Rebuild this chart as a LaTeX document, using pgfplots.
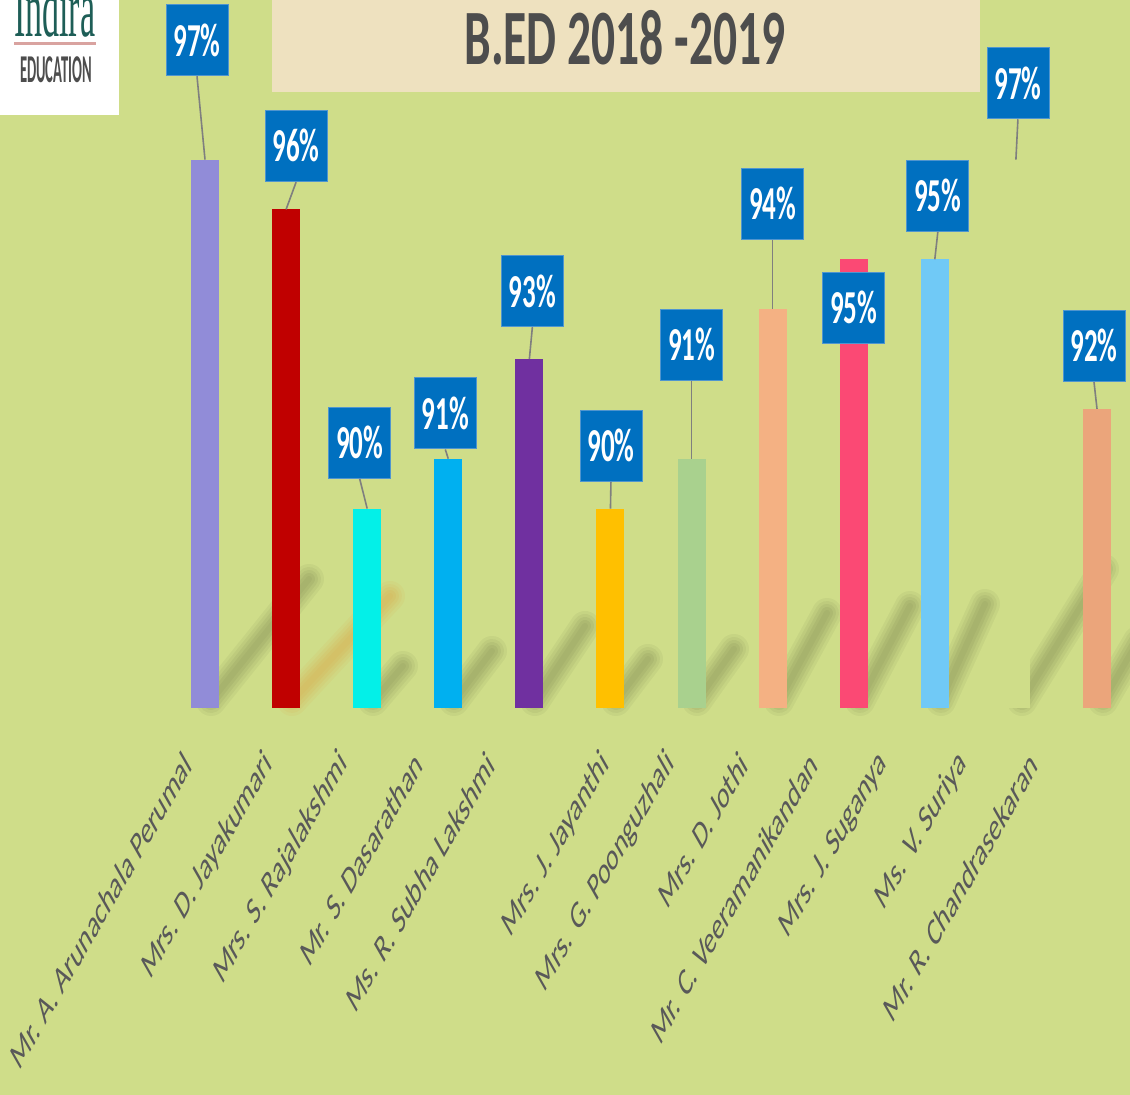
\documentclass[border=0pt]{standalone}
\usepackage{fontspec}
\setmainfont{Carlito}
\newfontfamily\seriffont{Liberation Serif}
\usepackage{pgfplots}
\pgfplotsset{compat=1.18}
\definecolor{bg}{HTML}{CFDD89}
\definecolor{boxblue}{HTML}{0070C0}
\definecolor{boxedge}{HTML}{4F95CF}
\definecolor{leadgray}{HTML}{7F7F7F}
\definecolor{labelgray}{HTML}{595959}
\definecolor{titlegray}{HTML}{4D4D4D}
\definecolor{titlebg}{HTML}{EEE1BF}
\definecolor{logoteal}{HTML}{1E5E57}
\definecolor{logopink}{HTML}{D9A3A0}
\definecolor{c1}{HTML}{918CD8}
\definecolor{c2}{HTML}{C00000}
\definecolor{c3}{HTML}{03F0E8}
\definecolor{c4}{HTML}{00B0F0}
\definecolor{c5}{HTML}{7030A0}
\definecolor{c6}{HTML}{FFC000}
\definecolor{c7}{HTML}{A9D18E}
\definecolor{c8}{HTML}{F4B183}
\definecolor{c9}{HTML}{FB4974}
\definecolor{c10}{HTML}{70C9F6}
\definecolor{c11}{HTML}{CFDD89}
\definecolor{c12}{HTML}{EBA57B}
\begin{document}
\begin{tikzpicture}[x=1pt,y=1pt,
  valbox/.style={fill=boxblue, draw=boxedge, line width=0.8pt, text=white, font=\bfseries\fontsize{27}{27}\selectfont, minimum width=62pt, minimum height=40.6pt, inner sep=0pt, yscale=1.75},
  leader/.style={leadgray, line width=1.6pt}]
\clip (0,0) rectangle (1130,1095);
\fill[bg] (0,0) rectangle (1130,1095);
% soft shadows behind the bars
\foreach \xr/\dx/\dy in {219/98/122, 381/30/35, 462/38/50, 543/50/75, 624/32/42, 705/37/52, 787/48/88, 868/50/95, 949/44/97, 1030/82/132, 1111/35/60}{
  \foreach \w/\o in {30/0.04, 24/0.04, 18/0.045, 12/0.045, 6/0.03}{
    \draw[line width=\w pt, line cap=round, black, opacity=\o] (\xr-8,394) -- ++(\dx,\dy);
  }
}
\foreach \w/\o in {30/0.06, 24/0.06, 18/0.07, 12/0.07, 6/0.05}{
  \draw[line width=\w pt, line cap=round, orange!70!brown, opacity=\o] (292,394) -- ++(98,105);
}
% title box
\fill[titlebg] (272,1003) rectangle (980,1095);
\node[inner sep=0pt, font=\bfseries\fontsize{47.5}{47.5}\selectfont, text=titlegray, yscale=1.65] at (625,1057) {B.ED 2018 -2019};
% logo
\fill[white] (0,980) rectangle (119,1095);
\node[anchor=base west, inner sep=0pt, font=\seriffont\fontsize{34}{34}\selectfont, text=logoteal, yscale=2.4] at (14,1058) {Indira};
\fill[logopink] (14,1050) rectangle (96,1052.5);
\node[inner sep=0pt, font=\bfseries\fontsize{14.6}{14.6}\selectfont, text=titlegray, yscale=2.7] at (56,1025.5) {EDUCATION};
\begin{axis}[
  at={(0pt,387pt)}, anchor=south west,
  scale only axis, width=1130pt, height=708pt,
  xmin=-2.528, xmax=11.407, ymin=86, ymax=100.2,
  axis line style={draw=none},
  ytick=\empty,
  xtick={-0.212,0.787,1.712,2.637,3.525,4.943,5.745,6.645,7.506,8.371,9.346,10.221},
  xticklabels={Mr. A. Arunachala Perumal, Mrs. D. Jayakumari, Mrs. S. Rajalakshmi, Mr. S. Dasarathan, Ms. R. Subha Lakshmi, Mrs. J. Jayanthi, Mrs. G. Poonguzhali, Mrs. D. Jothi, Mr. C. Veeramanikandan, Mrs. J. Suganya, Ms. V. Suriya, Mr. R. Chandrasekaran},
  major tick length=0pt,
  xticklabel style={yshift=-50pt, anchor=east, inner sep=0pt, font=\fontsize{22.5}{22.5}\selectfont, text=labelgray, yscale=1.75, rotate=45},
  clip mode=individual,
  mybar/.style={ybar, bar width=28pt, bar shift=0pt, draw=none, fill=#1},
]
\addplot[mybar=c1] coordinates {(0,97)};
\addplot[mybar=c2] coordinates {(1,96)};
\addplot[mybar=c3] coordinates {(2,90)};
\addplot[mybar=c4] coordinates {(3,91)};
\addplot[mybar=c5] coordinates {(4,93)};
\addplot[mybar=c6] coordinates {(5,90)};
\addplot[mybar=c7] coordinates {(6,91)};
\addplot[mybar=c8] coordinates {(7,94)};
\addplot[mybar=c9] coordinates {(8,95)};
\addplot[mybar=c10] coordinates {(9,95)};
\addplot[mybar=c11] coordinates {(10,97)};
\addplot[mybar=c12] coordinates {(11,92)};
% callouts
\node[valbox] (b1) at ([shift={(-8pt,119.5pt)}]axis cs:0,97) {97\%};
\draw[leader] (axis cs:0,97) -- (b1.south);
\node[valbox] (b2) at ([shift={(10pt,63.5pt)}]axis cs:1,96) {96\%};
\draw[leader] (axis cs:1,96) -- (b2.south);
\node[valbox] (b3) at ([shift={(-7.5pt,66pt)}]axis cs:2,90) {90\%};
\draw[leader] (axis cs:2,90) -- (b3.south);
\node[valbox] (b4) at ([shift={(-3pt,45.5pt)}]axis cs:3,91) {91\%};
\draw[leader] (axis cs:3,91) -- (b4.south);
\node[valbox] (b5) at ([shift={(3pt,68pt)}]axis cs:4,93) {93\%};
\draw[leader] (axis cs:4,93) -- (b5.south);
\node[valbox] (b6) at ([shift={(0.5pt,63pt)}]axis cs:5,90) {90\%};
\draw[leader] (axis cs:5,90) -- (b6.south);
\node[valbox] (b7) at ([shift={(0pt,114pt)}]axis cs:6,91) {91\%};
\draw[leader] (axis cs:6,91) -- (b7.south);
\node[valbox] (b8) at ([shift={(0pt,105.5pt)}]axis cs:7,94) {94\%};
\draw[leader] (axis cs:7,94) -- (b8.south);
\node[valbox] (b9) at ([shift={(0pt,-48.5pt)}]axis cs:8,95) {95\%};
\node[valbox] (b10) at ([shift={(3pt,63.5pt)}]axis cs:9,95) {95\%};
\draw[leader] (axis cs:9,95) -- (b10.south);
\node[valbox] (b11) at ([shift={(2pt,76.5pt)}]axis cs:10,97) {97\%};
\draw[leader] (axis cs:10,97) -- (b11.south);
\node[valbox] (b12) at ([shift={(-3pt,63pt)}]axis cs:11,92) {92\%};
\draw[leader] (axis cs:11,92) -- (b12.south);
\end{axis}
\end{tikzpicture}
\end{document}
